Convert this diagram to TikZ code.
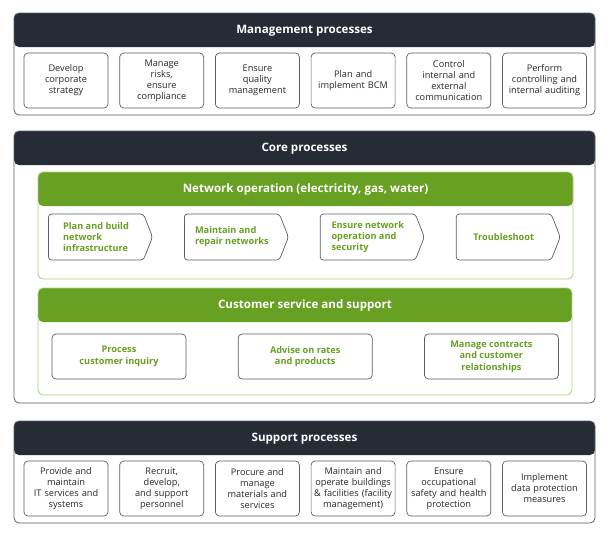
\documentclass[tikz,border=0pt]{standalone}
\usepackage{fontspec}
\setmainfont{Open Sans}
\usepackage{xcolor}
\usepackage{tikz}
\usetikzlibrary{positioning,shapes.symbols}
\definecolor{procdark}{HTML}{262C36}
\definecolor{procgreen}{HTML}{67A023}
\definecolor{proclight}{HTML}{A9D080}
\definecolor{procline}{HTML}{5A5F66}
\definecolor{proctext}{HTML}{25282C}
\tikzset{
  procpanel/.style={draw=procline, line width=0.8pt, rounded corners=5pt, fill=white, minimum width=581pt, inner sep=0pt,
    path picture={\fill[procdark] (path picture bounding box.north west) rectangle ([yshift=-34pt]path picture bounding box.north east);}},
  grouppanel/.style={draw=proclight, line width=0.8pt, rounded corners=5pt, fill=white, minimum width=535pt, minimum height=107pt, inner sep=0pt,
    path picture={\fill[procgreen] (path picture bounding box.north west) rectangle ([yshift=-34pt]path picture bounding box.north east);}},
  headtitle/.style={text=white, font=\bfseries\fontsize{11.6}{13}\selectfont, inner sep=0pt},
  procbox/.style={draw=procline, line width=0.7pt, rounded corners=4pt, align=center, minimum width=84pt, minimum height=55pt, text width=84pt, inner sep=0pt, text=proctext, font=\fontsize{9.2}{11}\selectfont},
  stepchevron/.style={signal, signal to=east, signal pointer angle=137, draw=procline, line width=0.7pt, rounded corners=3pt, minimum width=104pt, minimum height=46pt, align=left, inner sep=0pt, text=procgreen, font=\bfseries\fontsize{9.2}{11}\selectfont},
  custbox/.style={draw=procline, line width=0.7pt, rounded corners=4pt, align=center, minimum width=134pt, minimum height=45pt, inner sep=0pt, text=procgreen, font=\bfseries\fontsize{9.2}{11.5}\selectfont}
}

\begin{document}
\begin{tikzpicture}[x=1pt, y=-1pt]
\useasboundingbox (0,0) rectangle (610,536);
\node[procpanel, minimum height=102pt] (mgmt) at (304.5,64) {};
\node[headtitle] (mgmtTitle) at ([yshift=-18.5pt]mgmt.north) {Management processes};
\foreach \t [count=\i] in {{Develop\\corporate\\strategy}, {Manage\\risks,\\ensure\\compliance}, {Ensure\\quality\\management}, {Plan and\\implement BCM}, {Control\\internal and\\external\\communication}, {Perform\\controlling and\\internal auditing}} {
  \node[procbox] (mgmt\i) at ({66+95.7*(\i-1)},80.5) {\t};
}
\node[procpanel, minimum height=272pt] (core) at (304.5,267) {};
\node[headtitle] (coreTitle) at ([yshift=-18.5pt]core.north) {Core processes};
\node[grouppanel] (network) at (305.5,225.5) {};
\node[headtitle] (networkTitle) at ([yshift=-18pt]network.north) {Network operation (electricity, gas, water)};
\foreach \t [count=\i] in {{Plan and build\\network\\infrastructure}, {Maintain and\\repair networks}, {Ensure network\\operation and\\security}, {Troubleshoot}} {
  \node[stepchevron] (network\i) at ({96+135.9*(\i-1)},237) {\t};
}
\node[grouppanel, minimum width=534pt] (customer) at (305,341.5) {};
\node[headtitle] (customerTitle) at ([yshift=-18pt]customer.north) {Customer service and support};
\foreach \t [count=\i] in {{Process\\customer inquiry}, {Advise on rates\\and products}, {Manage contracts\\and customer\\relationships}} {
  \node[custbox] (customer\i) at ({119+186.2*(\i-1)},356.5) {\t};
}
\node[procpanel, minimum height=102pt] (support) at (304.5,472) {};
\node[headtitle] (supportTitle) at ([yshift=-18.5pt]support.north) {Support processes};
\foreach \t [count=\i] in {{Provide and\\maintain\\IT services and\\systems}, {Recruit,\\develop,\\and support\\personnel}, {Procure and\\manage\\materials and\\services}, {Maintain and\\operate buildings\\\& facilities (facility\\management)}, {Ensure\\occupational\\safety and health\\protection}, {Implement\\data protection\\measures}} {
  \node[procbox] (support\i) at ({66+95.7*(\i-1)},488.5) {\t};
}
\end{tikzpicture}
\end{document}
